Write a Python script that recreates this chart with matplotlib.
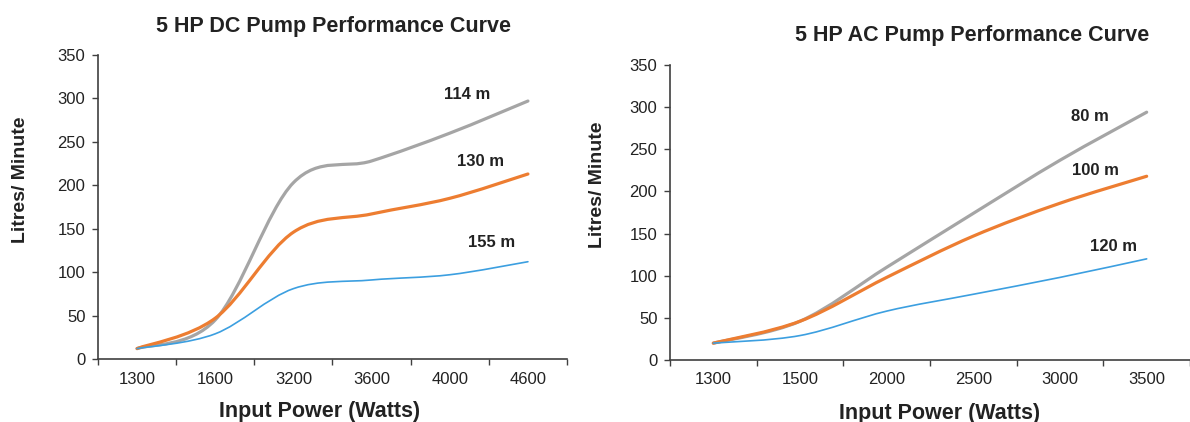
import numpy as np
import matplotlib
matplotlib.use('Agg')
import matplotlib.pyplot as plt
from matplotlib.path import Path
from matplotlib.patches import PathPatch

plt.rcParams['font.family'] = ['Liberation Sans', 'DejaVu Sans']

# DC pump
dc_power = ['1300', '1600', '3200', '3600', '4000', '4600']
dc_114m = [12, 45, 203, 228, 260, 297]
dc_130m = [12, 47, 146, 167, 185, 213]
dc_155m = [12, 29, 81, 91, 97, 112]

# AC pump
ac_power = ['1300', '1500', '2000', '2500', '3000', '3500']
ac_80m = [20, 46, 110, 174, 237, 294]
ac_100m = [20, 46, 98, 147, 186, 218]
ac_120m = [20, 29, 58, 78, 98, 120]

GRAY = '#A5A5A5'
ORANGE = '#ED7D31'
BLUE = '#3C9FE0'
AXIS = '#404040'
TEXT = '#222222'


def smooth_path(xs, ys):
    # excel style smoothed line through the points
    pts = np.column_stack([xs, ys]).astype(float)
    n = len(pts)
    verts = [pts[0]]
    codes = [Path.MOVETO]
    for i in range(n - 1):
        p0 = pts[max(i - 1, 0)]
        p1 = pts[i]
        p2 = pts[i + 1]
        p3 = pts[min(i + 2, n - 1)]
        verts += [p1 + (p2 - p0) / 6, p2 - (p3 - p1) / 6, p2]
        codes += [Path.CURVE4] * 3
    return Path(verts, codes)


def draw_curve(ax, ys, color, lw):
    xs = np.arange(len(ys))
    ax.add_patch(PathPatch(smooth_path(xs, ys), fill=False, edgecolor=color,
                           lw=lw, capstyle='round', joinstyle='round'))


def style_axis(ax, labels, xmax):
    ax.set_xlim(-0.5, xmax)
    ax.set_ylim(0, 350)
    ax.set_yticks(range(0, 351, 50))
    ax.set_xticks(range(len(labels)))
    ax.set_xticklabels(labels)
    ax.set_xticks(np.arange(-0.5, len(labels), 1), minor=True)
    ax.tick_params(axis='x', which='major', length=0, pad=9, labelsize=12, colors=TEXT)
    ax.tick_params(axis='x', which='minor', length=4, width=1, color=AXIS, direction='out')
    ax.tick_params(axis='y', length=4, width=1, color=AXIS, labelsize=12, labelcolor=TEXT, pad=5)
    for s in ['top', 'right']:
        ax.spines[s].set_visible(False)
    for s in ['left', 'bottom']:
        ax.spines[s].set_color(AXIS)
        ax.spines[s].set_linewidth(1.2)


W, H = 1190, 422
fig = plt.figure(figsize=(W / 100, H / 100), dpi=100)

ax1 = fig.add_axes([98 / W, (H - 359) / H, 469 / W, 304 / H])
draw_curve(ax1, dc_114m, GRAY, 2.3)
draw_curve(ax1, dc_130m, ORANGE, 2.3)
draw_curve(ax1, dc_155m, BLUE, 1.2)
style_axis(ax1, dc_power, 5.41)
ax1.text(4.22, 304, '114 m', ha='center', va='center', fontsize=12, fontweight='bold', color=TEXT)
ax1.text(4.39, 227, '130 m', ha='center', va='center', fontsize=12, fontweight='bold', color=TEXT)
ax1.text(4.54, 134, '155 m', ha='center', va='center', fontsize=12, fontweight='bold', color=TEXT)

ax2 = fig.add_axes([670 / W, (H - 360) / H, 520 / W, 295 / H])
draw_curve(ax2, ac_80m, GRAY, 2.3)
draw_curve(ax2, ac_100m, ORANGE, 2.3)
draw_curve(ax2, ac_120m, BLUE, 1.2)
style_axis(ax2, ac_power, 5.5)
ax2.text(4.35, 289, '80 m', ha='center', va='center', fontsize=12, fontweight='bold', color=TEXT)
ax2.text(4.41, 225, '100 m', ha='center', va='center', fontsize=12, fontweight='bold', color=TEXT)
ax2.text(4.62, 135, '120 m', ha='center', va='center', fontsize=12, fontweight='bold', color=TEXT)

# titles and axis labels
fig.text(334 / W, 1 - 32 / H, '5 HP DC Pump Performance Curve', ha='center', va='baseline',
         fontsize=15.5, fontweight='bold', color=TEXT)
fig.text(972 / W, 1 - 41 / H, '5 HP AC Pump Performance Curve', ha='center', va='baseline',
         fontsize=15.5, fontweight='bold', color=TEXT)
fig.text(320 / W, 1 - 417 / H, 'Input Power (Watts)', ha='center', va='baseline',
         fontsize=15.5, fontweight='bold', color=TEXT)
fig.text(940 / W, 1 - 419 / H, 'Input Power (Watts)', ha='center', va='baseline',
         fontsize=15.5, fontweight='bold', color=TEXT)
fig.text(21 / W, 1 - 180 / H, 'Litres/ Minute', ha='center', va='center', rotation=90,
         fontsize=14, fontweight='bold', color=TEXT)
fig.text(598 / W, 1 - 185 / H, 'Litres/ Minute', ha='center', va='center', rotation=90,
         fontsize=14, fontweight='bold', color=TEXT)

fig.savefig('out.png', dpi=100)
